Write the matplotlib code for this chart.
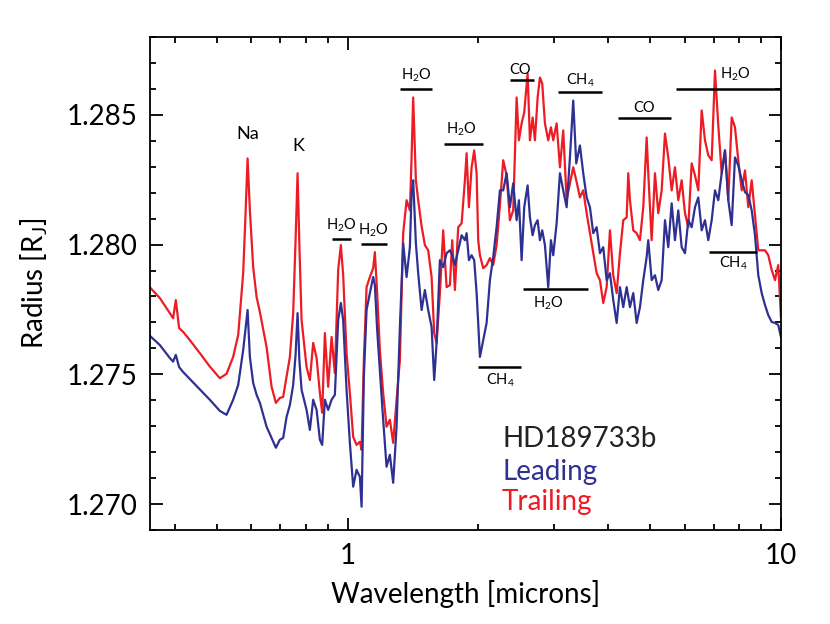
import matplotlib
matplotlib.use("Agg")
import matplotlib.pyplot as plt
from matplotlib.ticker import LogLocator, MultipleLocator, FixedLocator, FormatStrFormatter, NullFormatter

plt.rcParams['font.family'] = ['Lato', 'DejaVu Sans']
plt.rcParams['mathtext.default'] = 'regular'

RED = '#ED1C24'
BLUE = '#2E3192'

# wavelength grid [microns]
wavelength = [
    0.3500, 0.3688, 0.3889, 0.3958, 0.4015, 0.4086, 0.4173, 0.4325, 0.4560, 0.4810,
    0.5074, 0.5257, 0.5445, 0.5593, 0.5743, 0.5811, 0.5879, 0.5951, 0.6056, 0.6167,
    0.6276, 0.6503, 0.6678, 0.6832, 0.6979, 0.7102, 0.7232, 0.7360, 0.7490, 0.7586,
    0.7667, 0.7741, 0.7832, 0.8042, 0.8185, 0.8330, 0.8482, 0.8632, 0.8738, 0.8864,
    0.9020, 0.9185, 0.9347, 0.9513, 0.9650, 0.9769, 0.9947, 1.0123, 1.0302, 1.0490,
    1.0675, 1.0773, 1.0904, 1.1062, 1.1258, 1.1457, 1.1561, 1.1703, 1.1872, 1.2082,
    1.2302, 1.2520, 1.2742, 1.2974, 1.3204, 1.3438, 1.3683, 1.3925, 1.4051, 1.4171,
    1.4376, 1.4553, 1.4818, 1.5080, 1.5347, 1.5627, 1.5845, 1.6048, 1.6332, 1.6621,
    1.6924, 1.7224, 1.7436, 1.7688, 1.8001, 1.8329, 1.8653, 1.8823, 1.9054, 1.9329,
    1.9598, 1.9850, 2.0019, 2.0201, 2.0558, 2.0933, 2.1303, 2.1680, 2.2075, 2.2466,
    2.2863, 2.3280, 2.3692, 2.4111, 2.4551, 2.4853, 2.5212, 2.5563, 2.6029, 2.6349,
    2.6731, 2.7059, 2.7450, 2.7788, 2.8129, 2.8536, 2.9041, 2.9460, 2.9822, 3.0366,
    3.0904, 3.1451, 3.2024, 3.2591, 3.3168, 3.3701, 3.4370, 3.4978, 3.5616, 3.6246,
    3.6888, 3.7560, 3.8225, 3.8901, 3.9611, 4.0312, 4.1026, 4.1774, 4.2514, 4.3266,
    4.4055, 4.4431, 4.4833, 4.5627, 4.6458, 4.7280, 4.8117, 4.8994, 4.9413, 5.0314,
    5.1204, 5.2110, 5.3060, 5.4000, 5.4955, 5.5956, 5.6946, 5.7955, 5.9012, 6.0056,
    6.1119, 6.2233, 6.3334, 6.4455, 6.5629, 6.6790, 6.7972, 6.9211, 7.0436, 7.1682,
    7.2989, 7.4281, 7.5595, 7.6973, 7.8335, 7.9721, 8.1175, 8.2611, 8.4073, 8.5605,
    8.7120, 8.8661, 9.0278, 9.1875, 9.3500, 9.5207, 9.6890, 9.8572, 10.000,
]

# trailing limb radius [R_J]
trailing = [
    1.27835, 1.27794, 1.27736, 1.27716, 1.27786, 1.27678, 1.27664, 1.27632, 1.27582, 1.27530,
    1.27485, 1.27502, 1.27567, 1.27652, 1.27890, 1.28105, 1.28332, 1.28132, 1.27913, 1.27798,
    1.27740, 1.27605, 1.27452, 1.27390, 1.27409, 1.27413, 1.27490, 1.27567, 1.27736, 1.28017,
    1.28275, 1.27998, 1.27709, 1.27528, 1.27478, 1.27621, 1.27563, 1.27428, 1.27352, 1.27659,
    1.27452, 1.27644, 1.27505, 1.27902, 1.27998, 1.27882, 1.27582, 1.27428, 1.27259, 1.27228,
    1.27240, 1.27209, 1.27555, 1.27836, 1.27875, 1.27909, 1.27971, 1.27813, 1.27594, 1.27428,
    1.27298, 1.27325, 1.27236, 1.27402, 1.27555, 1.28044, 1.28171, 1.28132, 1.28336, 1.28567,
    1.28248, 1.28171, 1.28071, 1.27998, 1.27978, 1.27875, 1.27659, 1.27621, 1.27813, 1.28055,
    1.27836, 1.27844, 1.28017, 1.27825, 1.28067, 1.28082, 1.28248, 1.28352, 1.28144, 1.28298,
    1.28363, 1.28275, 1.28017, 1.27959, 1.27909, 1.27921, 1.27948, 1.27921, 1.27998, 1.28152,
    1.28325, 1.28267, 1.28094, 1.28132, 1.28567, 1.28402, 1.28467, 1.28509, 1.28659, 1.28402,
    1.28490, 1.28402, 1.28567, 1.28644, 1.28621, 1.28467, 1.28402, 1.28452, 1.28402, 1.28467,
    1.28298, 1.28440, 1.28171, 1.28236, 1.28298, 1.28248, 1.28182, 1.28209, 1.28121, 1.28044,
    1.27967, 1.27890, 1.27863, 1.27775, 1.27836, 1.28055, 1.27882, 1.27813, 1.27967, 1.28094,
    1.28105, 1.28275, 1.28171, 1.28055, 1.28044, 1.28017, 1.28144, 1.28413, 1.28275, 1.28017,
    1.28275, 1.28121, 1.28209, 1.28428, 1.28336, 1.28209, 1.28298, 1.28171, 1.28248, 1.28121,
    1.28067, 1.28313, 1.28267, 1.28209, 1.28517, 1.28402, 1.28344, 1.28325, 1.28671, 1.28459,
    1.28275, 1.28363, 1.28171, 1.28490, 1.28452, 1.28325, 1.28209, 1.28286, 1.28144, 1.28248,
    1.28113, 1.27978, 1.27978, 1.27978, 1.27959, 1.27902, 1.27863, 1.27921, 1.27721,
]

# leading limb radius [R_J]
leading = [
    1.27648, 1.27613, 1.27563, 1.27549, 1.27575, 1.27528, 1.27509, 1.27482, 1.27442, 1.27402,
    1.27359, 1.27344, 1.27402, 1.27459, 1.27594, 1.27671, 1.27748, 1.27567, 1.27467, 1.27421,
    1.27390, 1.27298, 1.27255, 1.27217, 1.27248, 1.27255, 1.27336, 1.27382, 1.27459, 1.27575,
    1.27736, 1.27555, 1.27440, 1.27363, 1.27286, 1.27402, 1.27363, 1.27248, 1.27228, 1.27402,
    1.27363, 1.27402, 1.27421, 1.27709, 1.27775, 1.27709, 1.27440, 1.27236, 1.27067, 1.27132,
    1.27105, 1.26990, 1.27490, 1.27748, 1.27813, 1.27875, 1.27844, 1.27671, 1.27517, 1.27325,
    1.27144, 1.27190, 1.27082, 1.27298, 1.27682, 1.28005, 1.27875, 1.27990, 1.28198, 1.28248,
    1.28005, 1.27890, 1.27748, 1.27825, 1.27748, 1.27682, 1.27478, 1.27621, 1.27940, 1.27913,
    1.27967, 1.27978, 1.27959, 1.27921, 1.27978, 1.28036, 1.28017, 1.28044, 1.27940, 1.27959,
    1.27940, 1.27813, 1.27698, 1.27567, 1.27632, 1.27698, 1.27863, 1.27952, 1.28067, 1.28209,
    1.28209, 1.28275, 1.28144, 1.28236, 1.28094, 1.28171, 1.27940, 1.28144, 1.28228, 1.28105,
    1.28036, 1.28075, 1.28094, 1.28017, 1.28055, 1.27998, 1.27836, 1.28017, 1.27959, 1.28082,
    1.28275, 1.28209, 1.28144, 1.28336, 1.28555, 1.28313, 1.28382, 1.28275, 1.28182, 1.28144,
    1.28044, 1.28067, 1.27967, 1.27990, 1.27863, 1.27890, 1.27786, 1.27698, 1.27836, 1.27759,
    1.27836, 1.27798, 1.27759, 1.27813, 1.27698, 1.27759, 1.27863, 1.27952, 1.28017, 1.27863,
    1.27882, 1.27825, 1.27863, 1.28094, 1.27990, 1.28159, 1.28017, 1.28132, 1.27990, 1.27967,
    1.28094, 1.28067, 1.28144, 1.28182, 1.28055, 1.28094, 1.28017, 1.28094, 1.28209, 1.28171,
    1.28275, 1.28363, 1.28171, 1.28075, 1.28336, 1.28305, 1.28248, 1.28202, 1.28190, 1.28132,
    1.28036, 1.27882, 1.27813, 1.27767, 1.27728, 1.27702, 1.27698, 1.27690, 1.27644,
]

# molecular band markers: label, band start, band end, bar level, label x, label y
band_labels = ['H$_2$O', 'H$_2$O', 'H$_2$O', 'H$_2$O', 'CO', 'CH$_4$', 'CO', 'H$_2$O',
               'CH$_4$', 'H$_2$O', 'CH$_4$']
band_lo = [0.9215, 1.0715, 1.3204, 1.6709, 2.3692, 3.0628, 4.2131, 5.7253, 6.834, 2.543, 2.0019]
band_hi = [1.0177, 1.2302, 1.5677, 2.0493, 2.6917, 3.8634, 5.5753, 10.0, 8.791, 3.592, 2.5078]
band_y = [1.28020, 1.28002, 1.28598, 1.28389, 1.28636, 1.28587, 1.28488, 1.28598,
          1.27970, 1.27830, 1.27530]
band_tx = [0.965, 1.1457, 1.4430, 1.8329, 2.498, 3.437, 4.8378, 7.834, 7.764, 2.9042, 2.2466]
band_ty = [1.28075, 1.28055, 1.28652, 1.28443, 1.28671, 1.28632, 1.28527, 1.28658,
           1.27927, 1.27773, 1.27476]

atom_labels = ['Na', 'K']
atom_x = [0.5897, 0.7707]
atom_y = [1.28427, 1.28379]

fig = plt.figure(figsize=(8.3, 6.24), dpi=100)
ax = fig.add_axes([0.1807, 0.1506, 0.7602, 0.7901])

ax.plot(wavelength, trailing, color=RED, lw=1.6)
ax.plot(wavelength, leading, color=BLUE, lw=1.6)

for lab, lo, hi, yb, tx, ty in zip(band_labels, band_lo, band_hi, band_y, band_tx, band_ty):
    ax.plot([lo, hi], [yb, yb], color='black', lw=1.8, solid_capstyle='butt')
    ax.text(tx, ty, lab, ha='center', va='center', fontsize=10.5)

for lab, x, y in zip(atom_labels, atom_x, atom_y):
    ax.text(x, y, lab, ha='center', va='center', fontsize=13)

ax.text(0.558, 0.168, 'HD189733b', transform=ax.transAxes, fontsize=20, color='#222222')
ax.text(0.558, 0.101, 'Leading', transform=ax.transAxes, fontsize=20, color=BLUE)
ax.text(0.558, 0.040, 'Trailing', transform=ax.transAxes, fontsize=20, color=RED)

ax.set_xscale('log')
ax.set_xlim(0.35, 10)
ax.set_ylim(1.269, 1.288)

ax.xaxis.set_major_locator(FixedLocator([1, 10]))
ax.xaxis.set_major_formatter(FormatStrFormatter('%d'))
ax.xaxis.set_minor_locator(LogLocator(base=10, subs=[2, 3, 4, 5, 6, 7, 8, 9]))
ax.xaxis.set_minor_formatter(NullFormatter())
ax.yaxis.set_major_locator(MultipleLocator(0.005))
ax.yaxis.set_major_formatter(FormatStrFormatter('%.3f'))
ax.yaxis.set_minor_locator(MultipleLocator(0.001))

ax.tick_params(which='both', direction='in', top=True, right=True, width=1.3, labelsize=20)
ax.tick_params(which='major', length=9, pad=9)
ax.tick_params(which='minor', length=4.5)
for s in ax.spines.values():
    s.set_linewidth(1.3)

ax.set_xlabel('Wavelength [microns]', fontsize=20, labelpad=8)
ax.set_ylabel('Radius [R$_J$]', fontsize=20, labelpad=12)

fig.savefig('out.png', dpi=100)
